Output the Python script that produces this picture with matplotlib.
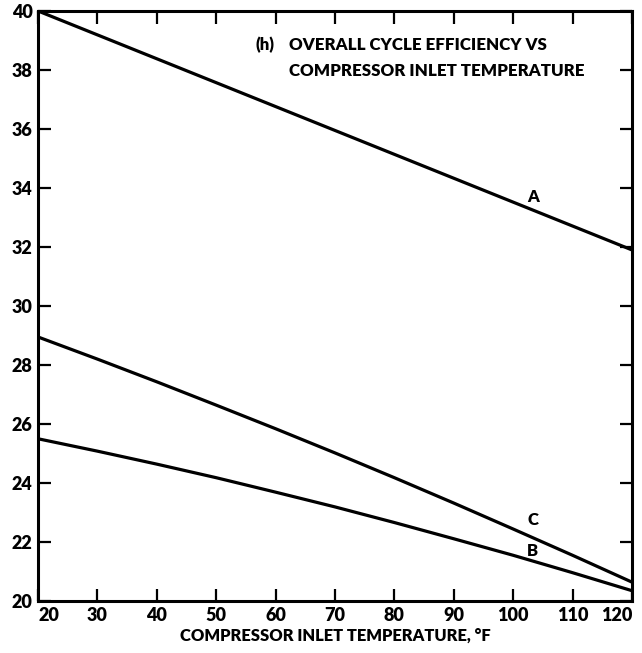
import matplotlib
matplotlib.use("Agg")
import matplotlib.pyplot as plt

temps = [20, 30, 40, 50, 60, 70, 80, 90, 100, 110, 120]
curve_a = [40.0, 39.19, 38.38, 37.57, 36.76, 35.95, 35.14, 34.33, 33.52, 32.71, 31.9]
curve_b = [25.5, 25.08, 24.64, 24.18, 23.69, 23.19, 22.66, 22.11, 21.55, 20.96, 20.35]
curve_c = [28.95, 28.20, 27.43, 26.64, 25.84, 25.02, 24.18, 23.32, 22.44, 21.55, 20.64]
x_ticks = [20, 30, 40, 50, 60, 70, 80, 90, 100, 110, 120]
y_ticks = [20, 22, 24, 26, 28, 30, 32, 34, 36, 38, 40]
curve_labels = ["A", "B", "C"]
label_pos = [(103.3, 33.7), (103.2, 21.7), (103.3, 22.75)]

plt.rcParams['font.family'] = ['Lato', 'DejaVu Sans']
W = 'heavy'

fig = plt.figure(figsize=(6.42, 6.53), dpi=100)
ax = fig.add_axes([0.0592, 0.0796, 0.9252, 0.9036])

for ys in (curve_a, curve_b, curve_c):
    ax.plot(temps, ys, color='black', lw=2.3, solid_capstyle='butt')

for name, (lx, ly) in zip(curve_labels, label_pos):
    ax.text(lx, ly, name, fontsize=12, fontweight=W, ha='center', va='center')

ax.set_xlim(20, 120)
ax.set_ylim(20, 40)
ax.set_xticks(x_ticks)
ax.set_yticks(y_ticks)
ax.tick_params(direction='in', length=9, width=1.6, top=True, right=True,
               labelsize=13, pad=4)
for lbl in ax.get_xticklabels() + ax.get_yticklabels():
    lbl.set_fontweight(W)
xl = ax.get_xticklabels()
xl[0].set_ha('left')
xl[-1].set_ha('right')
for s in ax.spines.values():
    s.set_linewidth(2.2)

ax.set_xlabel("COMPRESSOR INLET TEMPERATURE, °F", fontsize=11.9, fontweight=W, labelpad=3)

ax.text(0.366, 0.942, "(h)", transform=ax.transAxes, fontsize=12.2, fontweight=W, va='center')
ax.text(0.423, 0.942, "OVERALL CYCLE EFFICIENCY VS", transform=ax.transAxes,
        fontsize=12.2, fontweight=W, va='center')
ax.text(0.423, 0.898, "COMPRESSOR INLET TEMPERATURE", transform=ax.transAxes,
        fontsize=12.2, fontweight=W, va='center')

fig.savefig("out.png", dpi=100)
